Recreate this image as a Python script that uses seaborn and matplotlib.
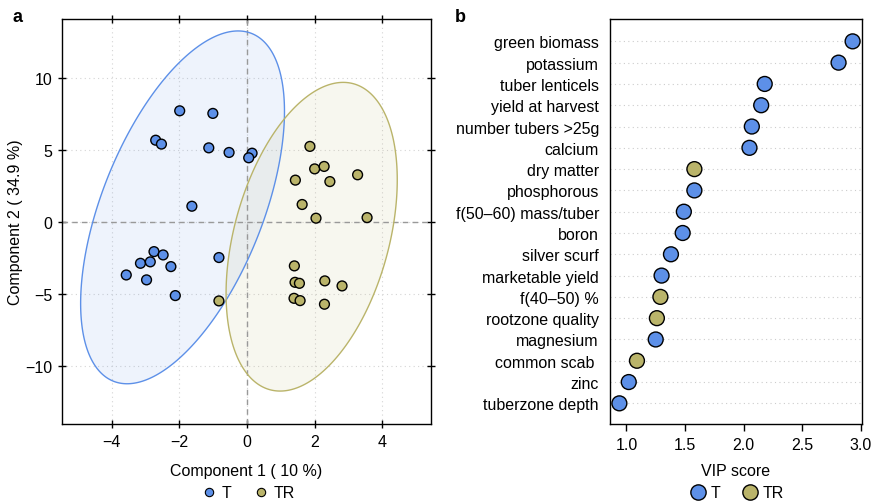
import numpy as np
import pandas as pd
import matplotlib
matplotlib.use("Agg")
import matplotlib.pyplot as plt
from matplotlib.patches import Polygon
from matplotlib.lines import Line2D
import seaborn as sns

# ---- data: panel a (sample scores) ----
t_x = [-1.99, -1.01, -2.70, -2.53, -1.13, -0.53, 0.15, 0.05, -1.63,
       -2.75, -2.48, -3.15, -2.86, -2.25, -0.83, -3.57, -2.97, -2.12]
t_y = [7.73, 7.55, 5.69, 5.42, 5.16, 4.84, 4.79, 4.47, 1.11,
       -2.04, -2.27, -2.85, -2.75, -3.08, -2.45, -3.66, -4.00, -5.09]
tr_x = [1.86, 2.00, 2.28, 1.43, 2.45, 3.27, 1.63, 2.04, 3.55,
        1.40, 1.42, 1.55, 2.30, 2.81, 1.39, 1.57, 2.29, -0.83]
tr_y = [5.26, 3.70, 3.87, 2.92, 2.82, 3.29, 1.23, 0.28, 0.32,
        -3.03, -4.17, -4.24, -4.07, -4.42, -5.28, -5.44, -5.69, -5.46]

# ---- data: panel b (VIP scores) ----
variables = ["green biomass", "potassium", "tuber lenticels", "yield at harvest",
             "number tubers >25g", "calcium", "dry matter", "phosphorous",
             "f(50\u201360) mass/tuber", "boron", "silver scurf", "marketable yield",
             "f(40\u201350) %", "rootzone quality", "magnesium", "common scab ",
             "zinc", "tuberzone depth"]
vip = [2.93, 2.81, 2.18, 2.15, 2.07, 2.05, 1.58, 1.58, 1.49, 1.48, 1.38, 1.30,
       1.29, 1.26, 1.25, 1.09, 1.02, 0.94]
vip_group = ["T", "T", "T", "T", "T", "T", "TR", "T", "T", "T", "T", "T",
             "TR", "TR", "T", "TR", "T", "T"]

groups = ["T", "TR"]
colors = {"T": "#5D90E8", "TR": "#BAB46A"}
FS = 11.5

sns.set_theme(style="white")
plt.rcParams["font.family"] = ["Liberation Sans", "DejaVu Sans"]
plt.rcParams["text.color"] = "black"
plt.rcParams["axes.labelcolor"] = "black"

fig = plt.figure(figsize=(8.72, 5.02), dpi=100)
ax1 = fig.add_axes([62 / 872, 1 - 425 / 502, (431 - 62) / 872, 405 / 502])
ax2 = fig.add_axes([610 / 872, 1 - 425 / 502, (862 - 610) / 872, 405 / 502])

scores = pd.DataFrame({
    "x": t_x + tr_x,
    "y": t_y + tr_y,
    "group": ["T"] * len(t_x) + ["TR"] * len(tr_x),
})

# confidence ellipses computed from each group's scores
r = 2.7
theta = np.linspace(0, 2 * np.pi, 300)
for g in groups:
    sub = scores[scores.group == g]
    pts = sub[["x", "y"]].to_numpy()
    mu = pts.mean(axis=0)
    cov = np.cov(pts.T)
    vals, vecs = np.linalg.eigh(cov)
    circ = np.vstack([np.cos(theta), np.sin(theta)])
    ell = (vecs @ np.diag(np.sqrt(vals) * r) @ circ).T + mu
    ax1.add_patch(Polygon(ell, closed=True, facecolor=colors[g], alpha=0.1,
                          edgecolor="none", zorder=1))
    ax1.add_patch(Polygon(ell, closed=True, facecolor="none",
                          edgecolor=colors[g], lw=1.0, zorder=2))

ax1.axhline(0, color="#999999", lw=1.0, ls=(0, (4, 3)), zorder=1.5)
ax1.axvline(0, color="#999999", lw=1.0, ls=(0, (4, 3)), zorder=1.5)

sns.scatterplot(data=scores, x="x", y="y", hue="group", palette=colors,
                hue_order=groups, s=50, edgecolor="black", linewidth=1.0,
                legend=False, ax=ax1, zorder=3)

ax1.set_xlim(-5.47, 5.44)
ax1.set_ylim(-14.0, 14.1)
ax1.set_xticks([-4, -2, 0, 2, 4])
ax1.set_yticks([-10, -5, 0, 5, 10])
ax1.grid(True, color="#d4d4d4", ls=(0, (1, 3)), lw=0.8)
ax1.set_axisbelow(True)
ax1.set_xlabel("Component 1 ( 10 %)", fontsize=FS)
ax1.set_ylabel("Component 2 ( 34.9 %)", fontsize=FS)
ax1.xaxis.set_label_coords(0.5, -39 / 405)
ax1.yaxis.set_label_coords(-39 / 369, 0.5)
ax1.tick_params(axis="both", which="both", labelsize=FS, colors="black",
                length=6, width=1, direction="inout", top=True, right=True,
                bottom=True, left=True, pad=4)
for sp in ax1.spines.values():
    sp.set_color("black")
    sp.set_linewidth(1.0)

# ---- panel b ----
vipdf = pd.DataFrame({"variable": variables, "vip": vip, "group": vip_group})
for i in range(len(variables)):
    ax2.axhline(i, color="#cccccc", ls=(0, (1, 3)), lw=0.8, zorder=0)
sns.scatterplot(data=vipdf, x="vip", y="variable", hue="group", palette=colors,
                hue_order=groups, s=115, edgecolor="black", linewidth=1.0,
                legend=False, ax=ax2, zorder=3)
ax2.set_ylim(len(variables) - 0.03, -1.05)
ax2.set_xlim(0.86, 3.01)
ax2.set_xticks([1.0, 1.5, 2.0, 2.5, 3.0])
ax2.set_xticklabels(["1.0", "1.5", "2.0", "2.5", "3.0"])
ax2.set_xlabel("VIP score", fontsize=FS)
ax2.xaxis.set_label_coords(0.5, -39 / 405)
ax2.set_ylabel("")
ax2.tick_params(axis="x", labelsize=FS, colors="black", length=5, width=1,
                direction="out", bottom=True, pad=4)
ax2.tick_params(axis="y", labelsize=FS, colors="black", length=0, pad=8)
ax2.grid(False)
for sp in ax2.spines.values():
    sp.set_color("black")
    sp.set_linewidth(1.0)

# panel letters
fig.text(12 / 872, 1 - 18 / 502, "a", fontsize=13, fontweight="bold",
         va="center", ha="left")
fig.text(455 / 872, 1 - 18 / 502, "b", fontsize=13, fontweight="bold",
         va="center", ha="left")

# legends
h_small = [Line2D([], [], marker="o", ls="", markersize=6,
                  markerfacecolor=colors[g], markeredgecolor="black",
                  markeredgewidth=0.8, label=g) for g in groups]
fig.legend(handles=h_small, loc="center", bbox_to_anchor=(248 / 872, 1 - 494 / 502),
           ncol=2, frameon=False, fontsize=FS, handletextpad=0.3,
           columnspacing=1.3, handlelength=1.0, borderpad=0)
h_big = [Line2D([], [], marker="o", ls="", markersize=11,
                markerfacecolor=colors[g], markeredgecolor="black",
                markeredgewidth=1.0, label=g) for g in groups]
fig.legend(handles=h_big, loc="center", bbox_to_anchor=(737 / 872, 1 - 494 / 502),
           ncol=2, frameon=False, fontsize=FS, handletextpad=0.3,
           columnspacing=1.3, handlelength=1.0, borderpad=0)

fig.savefig("out.png", dpi=100)
